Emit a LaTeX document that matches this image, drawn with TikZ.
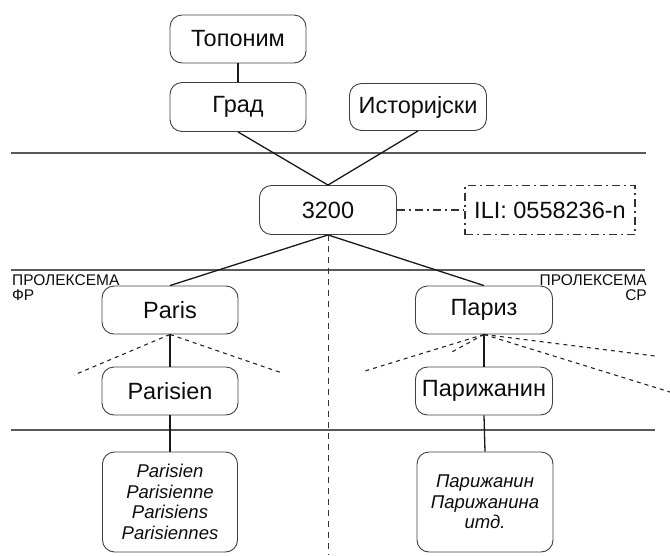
\documentclass[tikz,border=0pt]{standalone}
\usepackage{fontspec}
\setmainfont{Liberation Sans}
\begin{document}
\begin{tikzpicture}[x=1pt,y=-1pt,
  box/.style={draw=black!75, line width=0.9pt, rounded corners=12pt, inner sep=0pt,
    minimum width=136pt, minimum height=48pt, text=black!95,
    font=\fontsize{23.5}{27}\selectfont},
  listbox/.style={box, minimum height=100pt, align=center,
    font=\fontsize{18.5}{20.5}\selectfont\itshape},
  conn/.style={draw=black!90, line width=1.3pt},
  rule/.style={draw=black!65, line width=1.1pt},
  dots/.style={draw=black!85, line width=1.1pt, dash pattern=on 4pt off 4pt},
  dashdot/.style={line width=1.1pt, dash pattern=on 8pt off 4pt on 2pt off 4pt},
  lab/.style={inner sep=0pt, text=black!95, font=\fontsize{15.5}{14}\selectfont}
]
\useasboundingbox (0,0) rectangle (670,555);

% separator rules
\coordinate (r1a) at (11,153); \coordinate (r1b) at (646,153);
\coordinate (r2a) at (11,270); \coordinate (r2b) at (645,270);
\coordinate (r3a) at (11,430); \coordinate (r3b) at (655,430);
\draw[rule] (r1a) -- (r1b);
\draw[rule] (r2a) -- (r2b);
\draw[rule] (r3a) -- (r3b);

% nodes
\node[box] (top) at (238,39) {Топоним};
\node[box, minimum height=49pt] (grad) at (238,107) {Град};
\node[box, minimum width=137pt, minimum height=47pt] (ist) at (418,107) {Историјски};
\node[box, minimum width=137pt, minimum height=49pt] (num) at (328,210) {3200};
\node[draw=black!80, dashdot, inner sep=0pt, minimum width=170pt, minimum height=49pt,
  text=black!95, font=\fontsize{23.5}{27}\selectfont] (ili) at (550,210) {ILI: 0558236-n};
\node[box] (paris) at (170,310) {Paris};
\node[box, minimum width=137pt] (pariz) at (484,310) {Париз};
\node[box] (parisien) at (170,391) {Parisien};
\node[box, minimum width=137pt] (parizh) at (484,391) {Парижанин};
\node[listbox, minimum width=135pt] (listfr) at (170,502) {Parisien\\Parisienne\\Parisiens\\Parisiennes};
\node[listbox] (listsr) at (485,502) {Парижанин\\Парижанина\\итд.};

% labels
\node[lab, anchor=base west] (lfr1) at (12,285) {ПРОЛЕКСЕМА};
\node[lab, anchor=base west] (lfr2) at (12,300) {ФР};
\node[lab, anchor=base east] (lsr1) at (647,285) {ПРОЛЕКСЕМА};
\node[lab, anchor=base east] (lsr2) at (647,300) {СР};

% connectors
\draw[conn] (top.south) -- (grad.north);
\draw[conn] (grad.south) -- (num.north);
\draw[conn] (ist.south) -- (num.north);
\draw[conn] (num.south) -- (paris.north);
\draw[conn] (num.south) -- (pariz.north);
\draw[conn] (paris.south) -- (parisien.north);
\draw[conn] (pariz.south) -- (parizh.north);
\draw[conn] (parisien.south) -- (listfr.north);
\draw[conn] (parizh.south) -- (listsr.north);
\draw[draw=black!80, dashdot] (num.east) -- (ili.west);

% center dashed line
\coordinate (cbot) at (328,555);
\draw[draw=black!80, line width=1pt, dash pattern=on 6pt off 5pt] (num.south) -- (cbot);

% dotted fans
\coordinate (f1) at (74,375);
\coordinate (f2) at (282,373);
\coordinate (g1) at (365,371);
\coordinate (g2) at (450,353);
\coordinate (g3) at (655,356);
\coordinate (g4) at (670,392);
\draw[dots] (paris.south) -- (f1);
\draw[dots] (paris.south) -- (f2);
\draw[dots] (pariz.south) -- (g1);
\draw[dots] (pariz.south) -- (g2);
\draw[dots] (pariz.south) -- (g3);
\draw[dots] (pariz.south) -- (g4);
\end{tikzpicture}
\end{document}
